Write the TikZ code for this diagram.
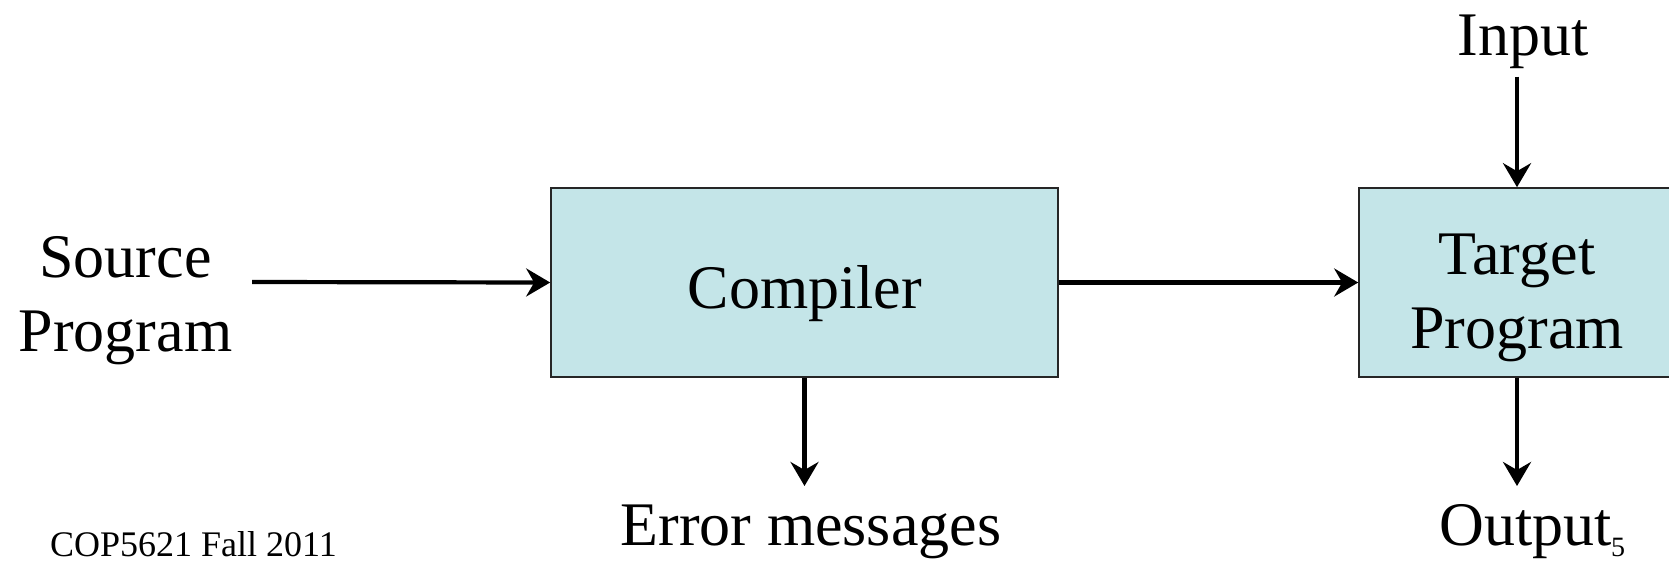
\documentclass[tikz,border=0pt]{standalone}
\usepackage{fontspec}
\setmainfont{Liberation Serif}
\usetikzlibrary{arrows.meta}
\definecolor{boxfill}{RGB}{196,229,232}
\tikzset{
  blk/.style={draw=black!85, line width=1.6pt, fill=boxfill, inner sep=0pt},
  lbl/.style={inner sep=0pt, font=\fontsize{62}{74}\selectfont, align=center, anchor=base},
  conn/.style={line width=4.2pt, -{Stealth[length=24pt,width=28pt,inset=8pt]}},
}
\begin{document}
\begin{tikzpicture}[x=1pt,y=-1pt]
\useasboundingbox (0,0) rectangle (1669,563);
\node[blk, minimum width=507pt, minimum height=189pt] (comp) at (804.5,282.5) {};
\node[lbl] (comptxt) at (805,308.7) {Compiler};
\node[blk, minimum width=316pt, minimum height=189pt] (targ) at (1517,282.5) {};
\node[lbl] (targtxt) at (1517,348) {Target\\Program};
\node[lbl] (src) at (125.6,351.3) {Source\\Program};
\coordinate (srcend) at (252,282);
\node[lbl] (inp) at (1523,55.3) {Input};
\coordinate (inpend) at (1517,76.6);
\node[lbl] (err) at (811,545) {Error messages};
\node[lbl] (out) at (1526,545) {Output};
\coordinate (errend) at (804.5,486);
\coordinate (outend) at (1517,486);
\node[inner sep=0pt, anchor=base west, font=\fontsize{28}{32}\selectfont] (pg) at (1611,556) {5};
\node[inner sep=0pt, anchor=base west, font=\fontsize{36}{42}\selectfont] (foot) at (50,556) {COP5621 Fall 2011};
\draw[conn] (srcend) -- (comp.west);
\draw[conn] (comp.east) -- (comp.east -| targ.west);
\draw[conn] (inpend) -- (targ.north);
\draw[conn] (comp.south) -- (errend);
\draw[conn] (targ.south) -- (outend);
\end{tikzpicture}
\end{document}
